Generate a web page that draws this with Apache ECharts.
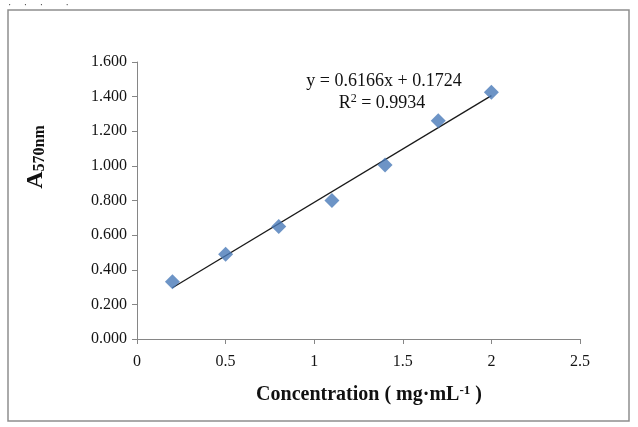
<!DOCTYPE html>
<html>
<head>
<meta charset="utf-8">
<script src="https://cdn.jsdelivr.net/npm/echarts@6/dist/echarts.min.js"></script>
<style>
  html, body { margin: 0; padding: 0; background: #fff; }
  #chart { width: 638px; height: 427px; }
</style>
</head>
<body>
<div id="chart"></div>
<script>
// measured standard points
const concentration = [0.2, 0.5, 0.8, 1.1, 1.4, 1.7, 2.0];
const absorbance = [0.33, 0.49, 0.65, 0.80, 1.005, 1.26, 1.425];
// linear fit shown on the chart
const fitSlope = 0.6166;
const fitIntercept = 0.1724;
const fitRange = [0.2, 2.0];
const xTicks = [0, 0.5, 1, 1.5, 2, 2.5];
const yTicks = [0, 0.2, 0.4, 0.6, 0.8, 1.0, 1.2, 1.4, 1.6];

const serif = '"Liberation Serif", "Times New Roman", serif';
const axisGray = '#868686';

let chart = echarts.init(document.getElementById('chart'));

let points = concentration.map((x, i) => [x, absorbance[i]]);
let fitLine = fitRange.map(x => [x, fitSlope * x + fitIntercept]);

let option = {
    backgroundColor: '#fff',
    animation: false,
    grid: { left: 137, right: 58, top: 62, bottom: 88 },
    xAxis: {
        type: 'value',
        min: xTicks[0],
        max: xTicks[xTicks.length - 1],
        interval: 0.5,
        axisLine: { show: true, lineStyle: { color: axisGray, width: 1 } },
        axisTick: { show: true, length: 5, lineStyle: { color: axisGray } },
        splitLine: { show: false },
        axisLabel: {
            margin: 15,
            color: '#141414',
            fontFamily: serif,
            fontSize: 16,
            formatter: v => String(v)
        }
    },
    yAxis: {
        type: 'value',
        min: yTicks[0],
        max: yTicks[yTicks.length - 1],
        interval: 0.2,
        axisLine: { show: true, lineStyle: { color: axisGray, width: 1 } },
        axisTick: { show: true, length: 5, lineStyle: { color: axisGray } },
        splitLine: { show: false },
        axisLabel: {
            margin: 10,
            color: '#141414',
            fontFamily: serif,
            fontSize: 16,
            formatter: v => v.toFixed(3)
        }
    },
    series: [
        {
            name: 'fit',
            type: 'line',
            data: fitLine,
            symbol: 'none',
            lineStyle: { color: '#1a1a1a', width: 1.3 },
            z: 2
        },
        {
            name: 'data',
            type: 'scatter',
            data: points,
            symbol: 'diamond',
            symbolSize: 15,
            itemStyle: { color: '#4879b8' },
            z: 3
        }
    ],
    graphic: [
        {
            type: 'rect',
            shape: { x: 8, y: 10, width: 621, height: 411 },
            style: { fill: 'none', stroke: '#8e8e8e', lineWidth: 1.5 },
            silent: true
        },
        {
            type: 'text',
            left: 8, top: 0,
            style: { text: '·     ·     ·         ·', fontSize: 10, fill: '#333', fontFamily: serif }
        },
        {
            type: 'text',
            x: 384, y: 81,
            style: {
                text: 'y = 0.6166x + 0.1724',
                fontFamily: serif, fontSize: 18, fill: '#111',
                align: 'center', verticalAlign: 'middle'
            }
        },
        {
            type: 'text',
            x: 382, y: 103,
            style: {
                text: 'R{s|2} = 0.9934',
                fontFamily: serif, fontSize: 18, fill: '#111',
                align: 'center', verticalAlign: 'middle',
                rich: { s: { fontFamily: serif, fontSize: 12, fill: '#111', verticalAlign: 'top', padding: [0, 0, 8, 0] } }
            }
        },
        {
            type: 'text',
            x: 369, y: 395,
            style: {
                text: 'Concentration ( mg·mL{s|-1} )',
                fontFamily: serif, fontSize: 20, fontWeight: 'bold', fill: '#111',
                align: 'center', verticalAlign: 'middle',
                rich: { s: { fontFamily: serif, fontSize: 13, fontWeight: 'bold', fill: '#111', verticalAlign: 'top', padding: [0, 0, 9, 0] } }
            }
        },
        {
            type: 'text',
            x: 36, y: 157,
            rotation: Math.PI / 2,
            style: {
                text: '{a|A}{b|570nm}',
                align: 'center', verticalAlign: 'middle',
                rich: {
                    a: { fontFamily: serif, fontSize: 24, fontWeight: 'bold', fill: '#111' },
                    b: { fontFamily: serif, fontSize: 16, fontWeight: 'bold', fill: '#111', verticalAlign: 'bottom' }
                }
            }
        }
    ]
};

chart.setOption(option);
</script>
</body>
</html>
